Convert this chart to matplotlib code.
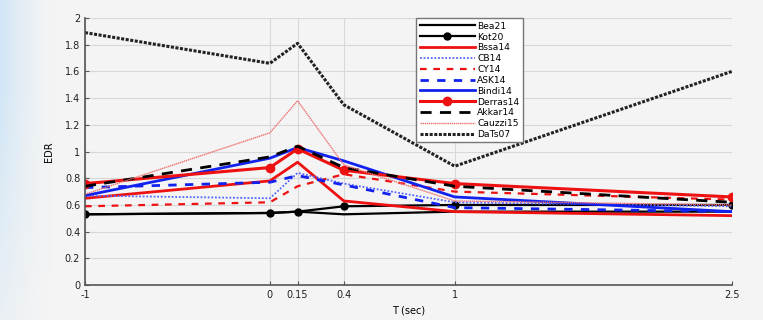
import numpy as np
import matplotlib
matplotlib.use("Agg")
import matplotlib.pyplot as plt

T = [-1, 0, 0.15, 0.4, 1, 2.5]
xtick_labels = ["-1", "0", "0.15", "0.4", "1", "2.5"]

Bea21    = [0.53, 0.54, 0.55, 0.53, 0.55, 0.55]
Kot20    = [0.53, 0.54, 0.55, 0.59, 0.60, 0.60]
Bssa14   = [0.65, 0.78, 0.92, 0.63, 0.55, 0.52]
CB14     = [0.67, 0.65, 0.84, 0.76, 0.62, 0.59]
CY14     = [0.59, 0.62, 0.74, 0.83, 0.70, 0.64]
ASK14    = [0.73, 0.77, 0.82, 0.75, 0.58, 0.55]
Bindi14  = [0.67, 0.95, 1.03, 0.93, 0.66, 0.55]
Derras14 = [0.76, 0.88, 1.02, 0.86, 0.76, 0.66]
Akkar14  = [0.74, 0.96, 1.04, 0.88, 0.74, 0.62]
Cauzzi15 = [0.68, 1.14, 1.38, 0.90, 0.63, 0.60]
DaTs07   = [1.89, 1.66, 1.81, 1.35, 0.89, 1.60]

fig = plt.figure(figsize=(7.63, 3.2), dpi=100)
fig.patch.set_facecolor("#f4f4f4")

# faint bluish edge on the left of the slide
bg = fig.add_axes([0, 0, 1, 1], zorder=-10)
xx = np.linspace(0, 1, 400)
yy = np.linspace(0, 1, 200)
X, Y = np.meshgrid(xx, yy)
alpha = np.clip(1 - X / 0.07, 0, 1) ** 1.5 * np.clip(0.3 + (1 - Y) * 1.0, 0, 1) * 0.75
img = np.ones((200, 400, 4))
img[..., 0] = 0.78
img[..., 1] = 0.89
img[..., 2] = 0.97
img[..., 3] = alpha
bg.imshow(img, aspect="auto", extent=[0, 1, 0, 1], origin="upper")
bg.set_xlim(0, 1)
bg.set_ylim(0, 1)
bg.axis("off")

ax = fig.add_axes([0.1114, 0.109, 0.8480, 0.835])
ax.set_facecolor("#f4f4f4")

ax.plot(T, Bea21, color="black", lw=1.6, label="Bea21")
ax.plot(T, Kot20, color="black", lw=1.6, marker="o", ms=5, label="Kot20")
ax.plot(T, Bssa14, color="#ee1111", lw=2.0, label="Bssa14")
ax.plot(T, CB14, color="#5566ff", lw=1.3, ls=(0, (1, 1)), label="CB14")
ax.plot(T, CY14, color="#ee1111", lw=1.6, ls=(0, (3, 3)), label="CY14")
ax.plot(T, ASK14, color="#1122ee", lw=2.0, ls=(0, (3, 3)), label="ASK14")
ax.plot(T, Bindi14, color="#1122ee", lw=2.0, label="Bindi14")
ax.plot(T, Derras14, color="#ee1111", lw=2.2, marker="o", ms=6, label="Derras14")
ax.plot(T, Akkar14, color="black", lw=2.0, ls=(0, (4, 3)), label="Akkar14")
ax.plot(T, Cauzzi15, color="#f07070", lw=1.0, ls=(0, (1, 0.5)), label="Cauzzi15")
ax.plot(T, DaTs07, color="#222222", lw=2.2, ls=(0, (1, 0.5)), label="DaTs07")

ax.set_xlim(-1, 2.5)
ax.set_ylim(0, 2)
ax.set_xticks(T)
ax.set_xticklabels(xtick_labels)
ax.set_yticks(np.arange(0, 2.01, 0.2))
ax.set_yticklabels(["0", "0.2", "0.4", "0.6", "0.8", "1", "1.2", "1.4", "1.6", "1.8", "2"])
ax.grid(True, color="#d8d8d8", lw=0.8)
ax.set_axisbelow(True)
ax.tick_params(labelsize=7, length=3, color="#555555", labelcolor="#222222", direction="in")
for s in ["top", "right"]:
    ax.spines[s].set_visible(False)
for s in ["left", "bottom"]:
    ax.spines[s].set_color("#555555")
    ax.spines[s].set_linewidth(1.2)

ax.set_xlabel("T (sec)", fontsize=7, labelpad=4)
ax.set_ylabel("EDR", fontsize=7, labelpad=8)

leg = ax.legend(loc="upper left", bbox_to_anchor=(0.505, 1.015), fontsize=6.6,
                frameon=True, fancybox=False, edgecolor="#777777", facecolor="white",
                handlelength=6.0, handletextpad=0.3, labelspacing=0.2,
                borderpad=0.35, framealpha=1)
leg.get_frame().set_linewidth(1.0)

fig.savefig("out.png", dpi=100, facecolor=fig.get_facecolor())
